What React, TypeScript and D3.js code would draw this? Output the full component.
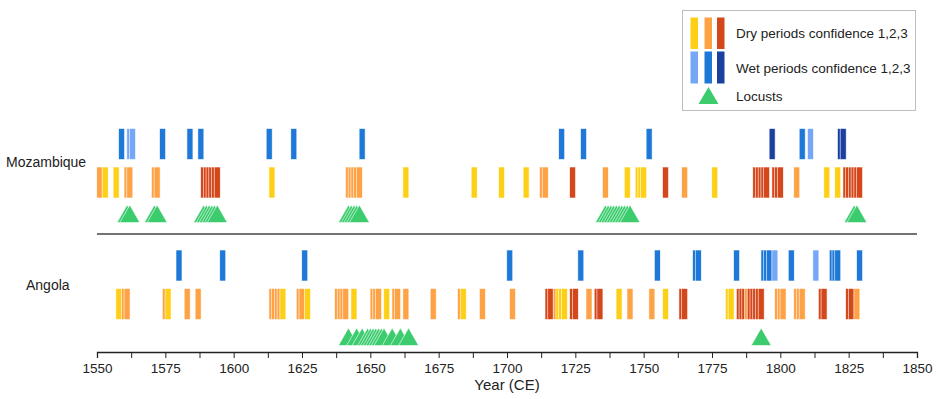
import React, { useEffect, useRef } from "react";
import * as d3 from "d3";

// Mozambique
const mozDry1 = [1553, 1557, 1614, 1663, 1688, 1698, 1707, 1744, 1748, 1749, 1750, 1776, 1817, 1821];
const mozDry2 = [1551, 1561, 1562, 1571, 1572, 1642, 1643, 1644, 1645, 1646, 1713, 1714, 1736, 1765, 1806];
const mozDry3 = [1589, 1590, 1591, 1592, 1593, 1594, 1724, 1758, 1791, 1792, 1793, 1794, 1795, 1798, 1799, 1800, 1824, 1825, 1826, 1827, 1828, 1829];
const mozWet1 = [1562, 1563, 1811];
const mozWet2 = [1559, 1574, 1584, 1588, 1613, 1622, 1647, 1720, 1728, 1752, 1808];
const mozWet3 = [1797, 1822, 1823];
const mozLocusts = [1561, 1562, 1571, 1572, 1589, 1590, 1591, 1592, 1593, 1594, 1642, 1643, 1644, 1645, 1646, 1736, 1737, 1738, 1739, 1740, 1741, 1742, 1743, 1744, 1745, 1827, 1828];

// Angola
const angDry1 = [1558, 1576, 1618, 1627, 1644, 1656, 1684, 1719, 1720, 1721, 1741, 1758, 1781, 1782];
const angDry2 = [1560, 1561, 1575, 1583, 1587, 1614, 1615, 1616, 1617, 1624, 1625, 1638, 1639, 1640, 1641, 1651, 1652, 1653, 1659, 1660, 1663, 1673, 1683, 1691, 1702, 1718, 1730, 1745, 1753, 1788, 1799, 1800, 1801, 1806, 1807, 1808, 1828];
const angDry3 = [1715, 1716, 1724, 1725, 1733, 1734, 1764, 1765, 1785, 1786, 1787, 1789, 1790, 1791, 1792, 1793, 1815, 1816, 1825, 1826];
const angWet1 = [1798, 1813];
const angWet2 = [1580, 1596, 1626, 1701, 1727, 1755, 1769, 1770, 1784, 1794, 1795, 1796, 1804, 1819, 1820, 1821, 1829];
const angWet3: number[] = [];
const angLocusts = [1642, 1645, 1647, 1649, 1650, 1651, 1652, 1653, 1654, 1655, 1658, 1661, 1664, 1793];

const majorTicks = [1550, 1575, 1600, 1625, 1650, 1675, 1700, 1725, 1750, 1775, 1800, 1825, 1850];

const dryColors = ["#fdd017", "#fea246", "#d4471b"];
const wetColors = ["#76a7f7", "#1d78d8", "#1b40a0"];
const locustColor = "#3ccc6e";
const FONT = "'Liberation Sans', Arial, sans-serif";

const W = 938;
const H = 399;

// merge confidence lists into one list sorted by year (draw order)
function merge(lists) {
	const out = [];
	lists.forEach((l, i) => l.forEach((year) => out.push({ year, c: i })));
	return out.sort((a, b) => a.year - b.year);
}

const rows = [
	{
		name: "Mozambique",
		labelX: 6,
		labelY: 167,
		wet: merge([mozWet1, mozWet2, mozWet3]),
		dry: merge([mozDry1, mozDry2, mozDry3]),
		locusts: mozLocusts,
		wetY: 128.5,
		dryY: 167,
		locY: 205,
	},
	{
		name: "Angola",
		labelX: 26,
		labelY: 290,
		wet: merge([angWet1, angWet2, angWet3]),
		dry: merge([angDry1, angDry2, angDry3]),
		locusts: angLocusts,
		wetY: 250,
		dryY: 288.5,
		locY: 328,
	},
];

const App = () => {
	const svgRef = useRef();

	useEffect(() => {
		const svg = d3.select(svgRef.current);
		svg.selectAll("*").remove();

		const x = d3.scaleLinear().domain([1550, 1850]).range([97, 917]);
		const barH = 31;
		const half = 1.1; // bar half-width in years
		const triW = 20;
		const triH = 17.5;
		const tri = (cx, y0) =>
			`M${cx - triW / 2},${y0 + triH}L${cx},${y0}L${cx + triW / 2},${y0 + triH}Z`;

		rows.forEach((r) => {
			const g = svg.append("g");
			g.append("text")
				.attr("x", r.labelX)
				.attr("y", r.labelY)
				.attr("font-size", 14)
				.attr("fill", "#222")
				.text(r.name);

			g.selectAll("rect.wet")
				.data(r.wet)
				.join("rect")
				.attr("class", "wet")
				.attr("x", (d) => x(d.year - half))
				.attr("y", r.wetY)
				.attr("width", (d) => x(d.year + half) - x(d.year - half))
				.attr("height", barH)
				.attr("fill", (d) => wetColors[d.c])
				.attr("stroke", "#fff")
				.attr("stroke-width", 0.7)
				.attr("stroke-opacity", 0.85);

			g.selectAll("rect.dry")
				.data(r.dry)
				.join("rect")
				.attr("class", "dry")
				.attr("x", (d) => x(d.year - half))
				.attr("y", r.dryY)
				.attr("width", (d) => x(d.year + half) - x(d.year - half))
				.attr("height", barH)
				.attr("fill", (d) => dryColors[d.c])
				.attr("stroke", "#fff")
				.attr("stroke-width", 0.7)
				.attr("stroke-opacity", 0.85);

			g.selectAll("path.loc")
				.data(r.locusts)
				.join("path")
				.attr("class", "loc")
				.attr("d", (d) => tri(x(d), r.locY))
				.attr("fill", locustColor)
				.attr("stroke", "#fff")
				.attr("stroke-width", 0.7)
				.attr("stroke-opacity", 0.85);
		});

		// separator between the two regions
		svg.append("line")
			.attr("x1", x(1550))
			.attr("x2", x(1850))
			.attr("y1", 234)
			.attr("y2", 234)
			.attr("stroke", "#444")
			.attr("stroke-width", 1.3);

		// x axis
		const axisY = 352;
		const axis = d3
			.axisBottom(x)
			.tickValues(d3.range(1550, 1851, 12.5))
			.tickSize(6)
			.tickFormat((d) => (majorTicks.includes(d) ? String(d) : ""));
		const ga = svg
			.append("g")
			.attr("transform", `translate(0,${axisY})`)
			.call(axis);
		ga.select(".domain").attr("stroke", "#222").attr("stroke-width", 1.3);
		ga.selectAll(".tick line").attr("stroke", "#222");
		ga.selectAll(".tick text")
			.attr("font-family", FONT)
			.attr("font-size", 13.5)
			.attr("fill", "#222")
			.attr("dy", "0.9em");

		svg.append("text")
			.attr("x", (x(1550) + x(1850)) / 2)
			.attr("y", 390)
			.attr("text-anchor", "middle")
			.attr("font-size", 15)
			.attr("fill", "#222")
			.text("Year (CE)");

		// legend
		const lg = svg.append("g");
		lg.append("rect")
			.attr("x", 682.5)
			.attr("y", 10.5)
			.attr("width", 233)
			.attr("height", 100)
			.attr("fill", "#fff")
			.attr("stroke", "#bdbdbd");
		const legX = [690.5, 704.5, 717];
		lg.selectAll("rect.ld")
			.data(dryColors)
			.join("rect")
			.attr("class", "ld")
			.attr("x", (d, i) => legX[i])
			.attr("y", 17.5)
			.attr("width", 7.5)
			.attr("height", 31.5)
			.attr("fill", (d) => d);
		lg.selectAll("rect.lw")
			.data(wetColors)
			.join("rect")
			.attr("class", "lw")
			.attr("x", (d, i) => legX[i])
			.attr("y", 51.5)
			.attr("width", 7.5)
			.attr("height", 32)
			.attr("fill", (d) => d);
		lg.append("path")
			.attr("d", `M${708.5 - 10},104L708.5,87L${708.5 + 10},104Z`)
			.attr("fill", locustColor);
		const legText = [
			["Dry periods confidence 1,2,3", 37.5],
			["Wet periods confidence 1,2,3", 72.7],
			["Locusts", 101],
		];
		lg.selectAll("text")
			.data(legText)
			.join("text")
			.attr("x", 736)
			.attr("y", (d) => d[1])
			.attr("font-size", 13.5)
			.attr("fill", "#222")
			.text((d) => d[0]);
	}, []);

	return (
		<svg
			ref={svgRef}
			width={W}
			height={H}
			style={{
				position: "absolute",
				top: 0,
				left: 0,
				background: "#fff",
				fontFamily: FONT,
			}}
		/>
	);
};

export default App;
